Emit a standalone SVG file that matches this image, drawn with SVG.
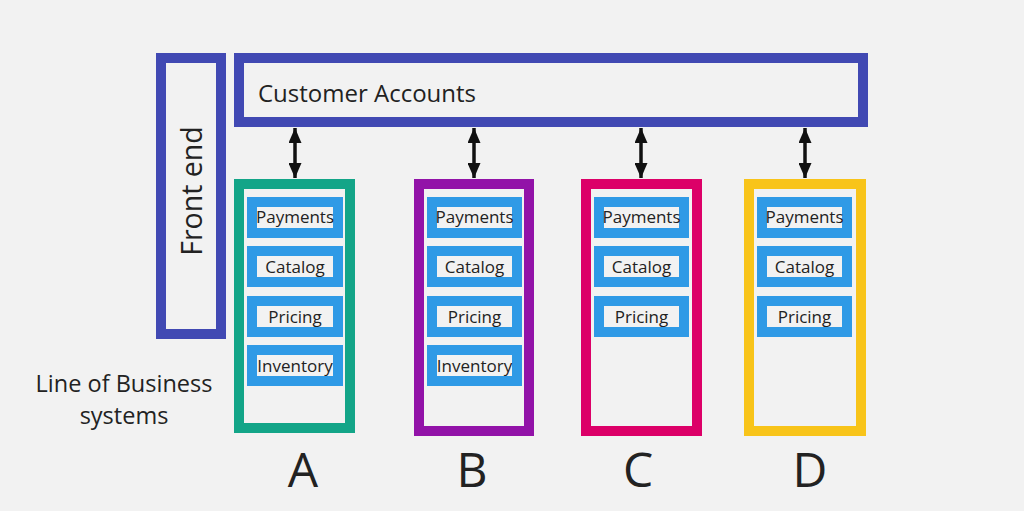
<svg xmlns="http://www.w3.org/2000/svg" width="1024" height="511" viewBox="0 0 1024 511">
  <defs>
    <marker id="ah" viewBox="0 0 15 13" refX="15" refY="6.5" markerWidth="15" markerHeight="13" markerUnits="userSpaceOnUse" orient="auto-start-reverse">
      <path d="M0,0 L15,6.5 L0,13 Z" fill="#111"/>
    </marker>
  </defs>
  <style>
    text { font-family: "Open Sans", "Noto Sans", "Liberation Sans", sans-serif; fill: #222; }
    .frame { fill: none; stroke: #4149b3; stroke-width: 10; }
    .grp { fill: none; stroke-width: 10; }
    .item { fill: #f2f2f2; stroke: #2f9ae6; stroke-width: 10; }
    .lbl { font-size: 17px; text-anchor: middle; }
    .big { font-size: 48px; text-anchor: middle; }
    .conn { stroke: #111; stroke-width: 3.5; marker-start: url(#ah); marker-end: url(#ah); }
  </style>
  <rect width="1024" height="511" fill="#f2f2f2"/>

  <g id="front-end">
    <rect class="frame" x="161" y="58" width="60" height="276"/>
    <text transform="translate(202,191) rotate(-90)" font-size="28.5" text-anchor="middle">Front end</text>
  </g>

  <g id="customer-accounts">
    <rect class="frame" x="239" y="58" width="624" height="64"/>
    <text x="258" y="102" font-size="24">Customer Accounts</text>
  </g>

  <g id="lob-label">
    <text x="124" y="392" font-size="23.5" text-anchor="middle">Line of Business</text>
    <text x="124" y="424" font-size="23.5" text-anchor="middle">systems</text>
  </g>

  <g id="connectors">
    <line class="conn" x1="295" y1="128" x2="295" y2="178"/>
    <line class="conn" x1="474" y1="128" x2="474" y2="178"/>
    <line class="conn" x1="641" y1="128" x2="641" y2="178"/>
    <line class="conn" x1="805" y1="128" x2="805" y2="178"/>
  </g>

  <g id="system-a">
    <rect class="grp" x="239" y="184" width="111" height="244" stroke="#13a588"/>
    <rect class="item" x="252" y="202" width="86" height="31"/>
    <text class="lbl" x="295" y="223">Payments</text>
    <rect class="item" x="252" y="251" width="86" height="31"/>
    <text class="lbl" x="295" y="273">Catalog</text>
    <rect class="item" x="252" y="301" width="86" height="31"/>
    <text class="lbl" x="295" y="323">Pricing</text>
    <rect class="item" x="252" y="350" width="86" height="31"/>
    <text class="lbl" x="295" y="372">Inventory</text>
    <text class="big" x="303" y="487">A</text>
  </g>

  <g id="system-b">
    <rect class="grp" x="419" y="184" width="110" height="247" stroke="#9213a8"/>
    <rect class="item" x="432" y="202" width="85" height="31"/>
    <text class="lbl" x="474.5" y="223">Payments</text>
    <rect class="item" x="432" y="251" width="85" height="31"/>
    <text class="lbl" x="474.5" y="273">Catalog</text>
    <rect class="item" x="432" y="301" width="85" height="31"/>
    <text class="lbl" x="474.5" y="323">Pricing</text>
    <rect class="item" x="432" y="350" width="85" height="31"/>
    <text class="lbl" x="474.5" y="372">Inventory</text>
    <text class="big" x="472" y="487">B</text>
  </g>

  <g id="system-c">
    <rect class="grp" x="586" y="184" width="111" height="247" stroke="#dc0068"/>
    <rect class="item" x="599" y="202" width="85" height="31"/>
    <text class="lbl" x="641.5" y="223">Payments</text>
    <rect class="item" x="599" y="251" width="85" height="31"/>
    <text class="lbl" x="641.5" y="273">Catalog</text>
    <rect class="item" x="599" y="301" width="85" height="31"/>
    <text class="lbl" x="641.5" y="323">Pricing</text>
    <text class="big" x="638" y="487">C</text>
  </g>

  <g id="system-d">
    <rect class="grp" x="749" y="184" width="112" height="247" stroke="#f8c41a"/>
    <rect class="item" x="762" y="202" width="85" height="31"/>
    <text class="lbl" x="804.5" y="223">Payments</text>
    <rect class="item" x="762" y="251" width="85" height="31"/>
    <text class="lbl" x="804.5" y="273">Catalog</text>
    <rect class="item" x="762" y="301" width="85" height="31"/>
    <text class="lbl" x="804.5" y="323">Pricing</text>
    <text class="big" x="810" y="487">D</text>
  </g>
</svg>
